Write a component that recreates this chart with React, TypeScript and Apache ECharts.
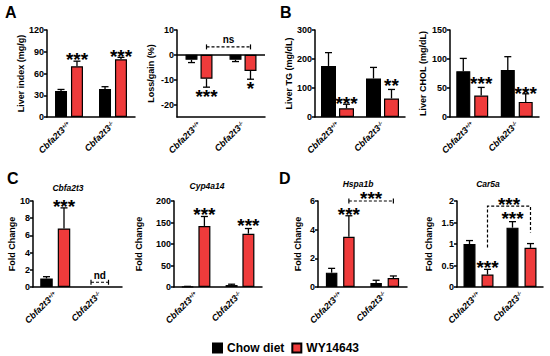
import React, { useEffect, useRef } from 'react';
import * as echarts from 'echarts';

const FONT = '"Liberation Sans", Arial, Helvetica, sans-serif';
const BLACK = '#000000';
const RED = '#ef3b3b';

const geneName = 'Cbfa2t3';
const genotypes = ['+/+', '-/-'];
const seriesNames = ['Chow diet', 'WY14643'];

// A: liver index (mg/g)
const liverIndexChow = [36, 38.5];
const liverIndexChowSem = [2, 3.3];
const liverIndexWy = [70, 79.5];
const liverIndexWySem = [7, 2.8];
// A: loss/gain (%)
const lossGainChow = [-2.0, -2.0];
const lossGainChowSem = [1.1, 0.7];
const lossGainWy = [-9.6, -6.5];
const lossGainWySem = [3.4, 3.3];
const lossGainTicks = [-20, -10, 0, 10];
// B: liver TG (mg/dL)
const tgChow = [176, 133];
const tgChowSem = [46, 38];
const tgWy = [30, 64];
const tgWySem = [14, 31];
// B: liver CHOL (mg/dL)
const cholChow = [79, 81];
const cholChowSem = [22, 23];
const cholWy = [37, 26];
const cholWySem = [14, 14];
// C: Cbfa2t3 fold change (nd in -/-)
const cbfaChow = [1.0, null];
const cbfaChowSem = [0.2, null];
const cbfaWy = [6.8, null];
const cbfaWySem = [2.4, null];
// C: Cyp4a14 fold change
const cypChow = [1, 4.5];
const cypChowSem = [0.5, 2];
const cypWy = [142, 124];
const cypWySem = [22, 12];
// D: Hspa1b fold change
const hspaChow = [1.0, 0.28];
const hspaChowSem = [0.3, 0.19];
const hspaWy = [3.5, 0.63];
const hspaWySem = [1.47, 0.14];
// D: Car5a fold change
const carChow = [1.0, 1.38];
const carChowSem = [0.08, 0.14];
const carWy = [0.29, 0.91];
const carWySem = [0.12, 0.1];

// significance marks: [category, side (-1 chow / 1 WY14643), y, label]
const liverIndexStars: any[] = [[0, 1, 85, '***'], [1, 1, 89, '***']];
const lossGainStars: any[] = [[0, 1, -15.3, '***'], [1, 1, -12.1, '*']];
const tgStars: any[] = [[0, 1, 62, '***'], [1, 1, 121, '**']];
const cholStars: any[] = [[0, 1, 64, '***'], [1, 1, 48, '***']];
const cbfaStars: any[] = [[0, 1, 9.85, '***']];
const cypStars: any[] = [[0, 1, 178, '***'], [1, 1, 153, '***']];
const hspaStars: any[] = [[0, 1, 5.35, '***']];
const carStars: any[] = [[0, 1, 0.55, '***'], [1, -1, 1.69, '***']];

// brackets: [fromCat, fromSide, toCat, toSide, y, label, labelY, leftLegY?, rightLegY?]
const lossGainBracket: any[] = [0, 1, 1, 1, 3.2, 'ns', 6.1];
const cbfaBracket: any[] = [1, -1, 1, 1, 0.55, 'nd', 1.3];
const hspaBracket: any[] = [0, 1, 1, 1, 6.0, '***', 6.47];
const carBracket: any[] = [0, 1, 1, 1, 1.88, '***', 2.02, 0.92, 1.27];

const panels: any[] = [
  { grid: { left: 47, top: 30, width: 88, height: 87 }, min: 0, max: 120, interval: 30, yName: 'Liver index (mg/g)', nameGap: 19,
    chow: liverIndexChow, chowSem: liverIndexChowSem, wy: liverIndexWy, wySem: liverIndexWySem, bw: 12, gap: 0.33, stars: liverIndexStars },
  { grid: { left: 177, top: 30, width: 88, height: 87 }, min: -25, max: 10, ticks: lossGainTicks, yName: 'Loss/gain (%)', nameGap: 22,
    chow: lossGainChow, chowSem: lossGainChowSem, wy: lossGainWy, wySem: lossGainWySem, bw: 12, gap: 0.25, stars: lossGainStars, bracket: lossGainBracket, zeroLine: true },
  { grid: { left: 315, top: 30, width: 90, height: 87 }, min: 0, max: 300, interval: 100, yName: 'Liver TG (mg/dL)', nameGap: 22,
    chow: tgChow, chowSem: tgChowSem, wy: tgWy, wySem: tgWySem, bw: 15, gap: 0.2, stars: tgStars },
  { grid: { left: 450, top: 30, width: 89, height: 87 }, min: 0, max: 150, interval: 50, yName: 'Liver CHOL (mg/dL)', nameGap: 23,
    chow: cholChow, chowSem: cholChowSem, wy: cholWy, wySem: cholWySem, bw: 14, gap: 0.28, stars: cholStars },
  { grid: { left: 33, top: 201, width: 89, height: 86 }, min: 0, max: 10, interval: 2, yName: 'Fold Change', nameGap: 16,
    chow: cbfaChow, chowSem: cbfaChowSem, wy: cbfaWy, wySem: cbfaWySem, bw: 12.5, gap: 0.4, stars: cbfaStars, bracket: cbfaBracket,
    title: 'Cbfa2t3', titlePos: [68, 188] },
  { grid: { left: 174, top: 201, width: 88, height: 86 }, min: 0, max: 200, interval: 50, yName: 'Fold Change', nameGap: 31,
    chow: cypChow, chowSem: cypChowSem, wy: cypWy, wySem: cypWySem, bw: 12, gap: 0.4, stars: cypStars,
    title: 'Cyp4a14', titlePos: [207, 185.5] },
  { grid: { left: 318, top: 201, width: 89, height: 86 }, min: 0, max: 6, interval: 2, yName: 'Fold Change', nameGap: 16,
    chow: hspaChow, chowSem: hspaChowSem, wy: hspaWy, wySem: hspaWySem, bw: 11.5, gap: 0.5, stars: hspaStars, bracket: hspaBracket,
    title: 'Hspa1b', titlePos: [358, 184] },
  { grid: { left: 457, top: 201, width: 86, height: 86 }, min: 0, max: 2, interval: 0.5, yName: 'Fold Change', nameGap: 24,
    chow: carChow, chowSem: carChowSem, wy: carWy, wySem: carWySem, bw: 12, gap: 0.5, stars: carStars, bracket: carBracket,
    title: 'Car5a', titlePos: [488, 183.5] },
];

const panelLetters: any[] = [['A', 5, 12.5], ['B', 280, 12.5], ['C', 7, 178], ['D', 279, 178]];

const STAR_SIZE = 19;
const AXIS_W = 1.5;

function buildOption() {
  const grid: any[] = [];
  const xAxis: any[] = [];
  const yAxis: any[] = [];
  const series: any[] = [];
  const graphic: any[] = [];

  panels.forEach((p, i) => {
    const off = (p.bw + p.bw * p.gap) / 2;
    grid.push({ ...p.grid, containLabel: false });
    xAxis.push({
      type: 'category', gridIndex: i, data: genotypes,
      axisLine: { onZero: false, lineStyle: { color: BLACK, width: AXIS_W } },
      axisTick: { alignWithLabel: true, length: 3, lineStyle: { color: BLACK, width: AXIS_W } },
      axisLabel: {
        rotate: 45, margin: 6, interval: 0,
        formatter: (v: string) => `{m|${geneName}}{s|${v}}`,
        rich: {
          m: { fontSize: 9, fontStyle: 'italic', fontWeight: 'bold', fontFamily: FONT, color: BLACK },
          s: { fontSize: 5.5, fontStyle: 'italic', fontWeight: 'bold', fontFamily: FONT, color: BLACK, verticalAlign: 'top' },
        },
      },
      splitLine: { show: false },
    });
    const yA: any = {
      type: 'value', gridIndex: i, min: p.min, max: p.max,
      name: p.yName, nameLocation: 'middle', nameGap: p.nameGap,
      nameTextStyle: { fontFamily: FONT, fontWeight: 'bold', fontSize: 9, color: BLACK },
      axisLine: { show: true, onZero: false, lineStyle: { color: BLACK, width: AXIS_W } },
      axisTick: { show: true, length: 3, lineStyle: { color: BLACK, width: AXIS_W } },
      axisLabel: { fontSize: 9, fontWeight: 'bold', color: BLACK, fontFamily: FONT, margin: 3 },
      splitLine: { show: false },
    };
    if (p.ticks) {
      yA.axisTick.customValues = p.ticks;
      yA.axisLabel.customValues = p.ticks;
    } else {
      yA.interval = p.interval;
    }
    yAxis.push(yA);

    const chowSeries: any = {
      type: 'bar', name: seriesNames[0], xAxisIndex: i, yAxisIndex: i, data: p.chow,
      barWidth: p.bw, barGap: `${p.gap * 100}%`,
      itemStyle: { color: BLACK, borderColor: BLACK, borderWidth: 1.2 },
    };
    if (p.zeroLine) {
      chowSeries.markLine = {
        silent: true, symbol: 'none', label: { show: false },
        lineStyle: { color: BLACK, type: 'solid', width: AXIS_W },
        data: [{ yAxis: 0 }],
      };
    }
    series.push(chowSeries);
    series.push({
      type: 'bar', name: seriesNames[1], xAxisIndex: i, yAxisIndex: i, data: p.wy,
      barWidth: p.bw, barGap: `${p.gap * 100}%`,
      itemStyle: { color: RED, borderColor: BLACK, borderWidth: 1.2 },
    });

    // error bars
    const errData: any[] = [];
    p.chow.forEach((v: any, c: number) => { if (v != null) errData.push([c, v, -1, p.chowSem[c]]); });
    p.wy.forEach((v: any, c: number) => { if (v != null) errData.push([c, v, 1, p.wySem[c]]); });
    series.push({
      type: 'custom', xAxisIndex: i, yAxisIndex: i, clip: false, silent: true, z: 5,
      encode: { x: 0, y: 1 }, data: errData,
      renderItem: (params: any, api: any) => {
        const c = api.value(0), mean = api.value(1), side = api.value(2), sem = api.value(3);
        const a = api.coord([c, mean]);
        const b = api.coord([c, mean + (mean < 0 ? -sem : sem)]);
        const x = a[0] + side * off;
        const cap = 3.5;
        return {
          type: 'group', children: [
            { type: 'line', shape: { x1: x, y1: a[1], x2: x, y2: b[1] }, style: { stroke: BLACK, lineWidth: 1.3 } },
            { type: 'line', shape: { x1: x - cap, y1: b[1], x2: x + cap, y2: b[1] }, style: { stroke: BLACK, lineWidth: 1.3 } },
          ],
        };
      },
    });

    // stars
    const stars = p.stars || [];
    series.push({
      type: 'custom', xAxisIndex: i, yAxisIndex: i, clip: false, silent: true, z: 6,
      encode: { x: 0, y: 1 }, data: stars.map((s: any) => [s[0], s[2], s[1]]),
      renderItem: (params: any, api: any) => {
        const s = stars[params.dataIndex];
        const pt = api.coord([s[0], s[2]]);
        return {
          type: 'text', x: pt[0] + s[1] * off, y: pt[1] + STAR_SIZE * 0.21,
          style: { text: s[3], fontSize: STAR_SIZE, lineHeight: 9, fontWeight: 'bold', fontFamily: FONT, fill: BLACK, align: 'center', verticalAlign: 'middle' },
        };
      },
    });

    // bracket
    if (p.bracket) {
      const br = p.bracket;
      series.push({
        type: 'custom', xAxisIndex: i, yAxisIndex: i, clip: false, silent: true, z: 6,
        encode: { x: 0, y: 1 }, data: [[br[0], br[4]]],
        renderItem: (params: any, api: any) => {
          const l = api.coord([br[0], br[4]]);
          const r = api.coord([br[2], br[4]]);
          const x1 = l[0] + br[1] * off;
          const x2 = r[0] + br[3] * off;
          const y = l[1];
          const children: any[] = [];
          const dash = { stroke: BLACK, lineWidth: 1.2, lineDash: [3, 2] };
          const solid = { stroke: BLACK, lineWidth: 1.2 };
          if (br.length > 7) {
            const yl = api.coord([br[0], br[7]])[1];
            const yr = api.coord([br[2], br[8]])[1];
            children.push({ type: 'polyline', shape: { points: [[x1, yl], [x1, y], [x2, y], [x2, yr]] }, style: { ...dash, fill: null } });
          } else {
            children.push({ type: 'line', shape: { x1, y1: y, x2, y2: y }, style: dash });
            children.push({ type: 'line', shape: { x1, y1: y - 2.5, x2: x1, y2: y + 2.5 }, style: solid });
            children.push({ type: 'line', shape: { x1: x2, y1: y - 2.5, x2, y2: y + 2.5 }, style: solid });
          }
          const ty = api.coord([br[0], br[6]])[1];
          const isStar = String(br[5]).indexOf('*') >= 0;
          const fs = isStar ? STAR_SIZE : 10;
          children.push({
            type: 'text', x: (x1 + x2) / 2, y: ty + (isStar ? STAR_SIZE * 0.21 : 0),
            style: { text: br[5], fontSize: fs, lineHeight: isStar ? 9 : 11, fontWeight: 'bold', fontFamily: FONT, fill: BLACK, align: 'center', verticalAlign: 'middle' },
          });
          return { type: 'group', children };
        },
      });
    }

    if (p.title) {
      graphic.push({
        type: 'text', x: p.titlePos[0], y: p.titlePos[1],
        style: { text: p.title, fontSize: 8.5, fontStyle: 'italic', fontWeight: 'bold', fontFamily: FONT, fill: BLACK, align: 'center', verticalAlign: 'middle' },
      });
    }
  });

  panelLetters.forEach((l) => {
    graphic.push({
      type: 'text', x: l[1], y: l[2],
      style: { text: l[0], fontSize: 16, fontWeight: 'bold', fontFamily: FONT, fill: BLACK, align: 'left', verticalAlign: 'middle' },
    });
  });

  return {
    animation: false,
    backgroundColor: '#ffffff',
    textStyle: { fontFamily: FONT },
    grid, xAxis, yAxis, series, graphic,
    legend: {
      data: seriesNames, left: 207, top: 337, itemWidth: 9, itemHeight: 9, itemGap: 7, icon: 'rect',
      selectedMode: false,
      textStyle: { fontSize: 12, fontWeight: 'bold', color: BLACK, fontFamily: FONT },
    },
  };
}

export default function App() {
  const ref = useRef<HTMLDivElement>(null);
  useEffect(() => {
    document.body.style.margin = '0';
    if (!ref.current) return;
    const chart = echarts.init(ref.current, undefined, { renderer: 'svg' });
    chart.setOption(buildOption() as any);
    return () => chart.dispose();
  }, []);
  return <div ref={ref} style={{ width: 550, height: 356 }} />;
}
